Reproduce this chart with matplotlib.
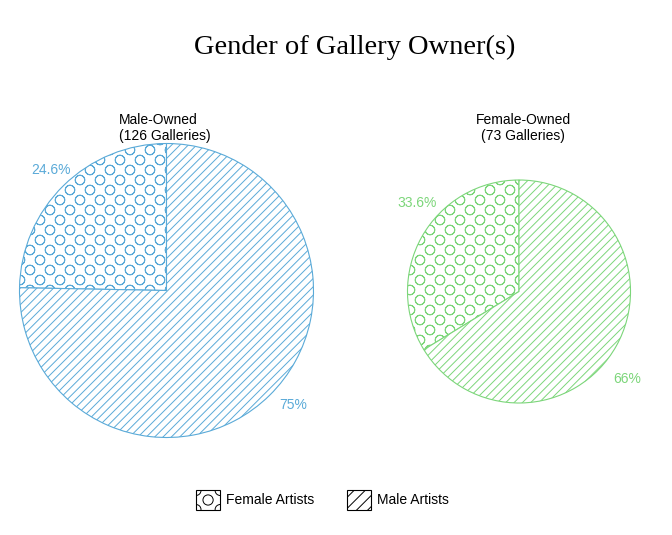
import numpy as np
import matplotlib
matplotlib.use("Agg")
import matplotlib.pyplot as plt
import matplotlib.hatch as mhatch
from matplotlib.patches import Patch, Rectangle, Circle
from matplotlib.legend_handler import HandlerBase
from matplotlib.path import Path

# data
owner_groups = ["Male-Owned", "Female-Owned"]
gallery_counts = [126, 73]
artist_groups = ["Female Artists", "Male Artists"]
male_owned_pct = [24.6, 75]
female_owned_pct = [33.6, 66]
pct_labels = [["24.6%", "75%"], ["33.6%", "66%"]]

# styling
W, H = 672, 535
blue = "#5aaad8"
green = "#7cd67a"
pie_hatches = ["o", "////"]
sans = "Liberation Sans"
serif = "Liberation Serif"
plt.rcParams["hatch.linewidth"] = 0.7


class RingLattice(mhatch.HatchPatternBase):
	"""thin rings for 'o': 5 per inch across, rows twice as dense, staggered"""
	cols = 5
	radius = 0.048
	ring = Path.unit_circle()

	def __init__(self, hatch, density):
		self.centres = []
		if hatch.count('o'):
			step = 1.0 / self.cols
			for row in range(2 * self.cols + 1):
				shift = step / 2 * (row % 2)
				for k in range(-1, self.cols + 2):
					self.centres.append((k * step + shift, row * step / 2))
		self.num_vertices = len(self.centres) * 2 * len(self.ring.vertices)

	def set_vertices_and_codes(self, vertices, codes):
		v = self.ring.vertices * self.radius
		v = np.concatenate([v, v[::-1] * 0.96])	# outer, then inner backwards -> thin ring
		c = np.concatenate([self.ring.codes, self.ring.codes])
		np.concatenate([v + p for p in self.centres], out=vertices)
		np.concatenate([c] * len(self.centres), out=codes)


# swap matplotlib's small circles for the thin ring lattice
mhatch._hatch_types = [RingLattice if t is mhatch.SmallCircles else t
                       for t in mhatch._hatch_types]


class RingBoxHandler(HandlerBase):
	"""legend box with one ring in the middle and quarter rings in the corners"""
	def create_artists(self, legend, orig_handle, xdescent, ydescent, width, height,
	                   fontsize, trans):
		x0, y0 = -xdescent, -ydescent
		box = Rectangle((x0, y0), width, height, facecolor="white", edgecolor="black",
		                linewidth=0.8, transform=trans)
		arts = [box]
		r = 0.21 * width
		spots = [(x0 + width / 2, y0 + height / 2), (x0, y0), (x0 + width, y0),
		         (x0, y0 + height), (x0 + width, y0 + height)]
		for sx, sy in spots:
			c = Circle((sx, sy), r, fill=False, edgecolor="black", linewidth=0.7,
			           transform=trans)
			c.set_clip_path(box)
			arts.append(c)
		return arts


fig = plt.figure(figsize=(W / 100, H / 100), dpi=100)
ax = fig.add_axes([0, 0, 1, 1])

# one axes in pixel units, y flipped by hand so the pies keep their direction
def py(y):
	return H - y

pies = [
	# values, colour, centre (px), radius (px), label (angle, distance), title pos
	(male_owned_pct, blue, (166.5, 290.5), 147, [(134, 1.135), (318, 1.16)],
	 (164.5, 113)),
	(female_owned_pct, green, (519, 291.5), 111.5, [(139, 1.21), (321, 1.25)],
	 (523, 113)),
]

for i, (vals, col, (cx, cy), r, lab_pos, (tx, ty)) in enumerate(pies):
	ax.pie(vals, startangle=90, counterclock=True, radius=r,
	       center=(cx, py(cy)), frame=True, hatch=pie_hatches,
	       colors=["white", "white"],
	       wedgeprops=dict(edgecolor=col, linewidth=0.8))
	for txt, (ang, dist) in zip(pct_labels[i], lab_pos):
		a = np.deg2rad(ang)
		ax.text(cx + r * dist * np.cos(a), py(cy) + r * dist * np.sin(a), txt,
		        ha="center", va="center", color=col, fontsize=10, family=sans)
	ax.text(tx, py(ty), "%s\n(%d Galleries)" % (owner_groups[i], gallery_counts[i]),
	        ha="center", va="top", multialignment="left" if i == 0 else "center",
	        fontsize=10, family=sans, linespacing=1.15)

ax.set_xlim(0, W)
ax.set_ylim(0, H)
ax.set_aspect("equal")
ax.axis("off")

fig.text(0.5285, 1 - 47 / H, "Gender of Gallery Owner(s)", ha="center", va="center",
         fontsize=20.5, family=serif)

female_handle = Patch(facecolor="white", edgecolor="black", linewidth=0.8)
male_handle = Patch(facecolor="white", edgecolor="black", hatch="///", linewidth=0.8)
fig.legend([female_handle, male_handle], artist_groups, loc="center",
           bbox_to_anchor=(322.5 / W, 1 - 500 / H),
           handler_map={female_handle: RingBoxHandler()},
           ncol=2, frameon=False, prop=dict(family=sans, size=10),
           handlelength=1.75, handleheight=1.75, handletextpad=0.45,
           columnspacing=2.3)

plt.savefig("out.png", dpi=100)
